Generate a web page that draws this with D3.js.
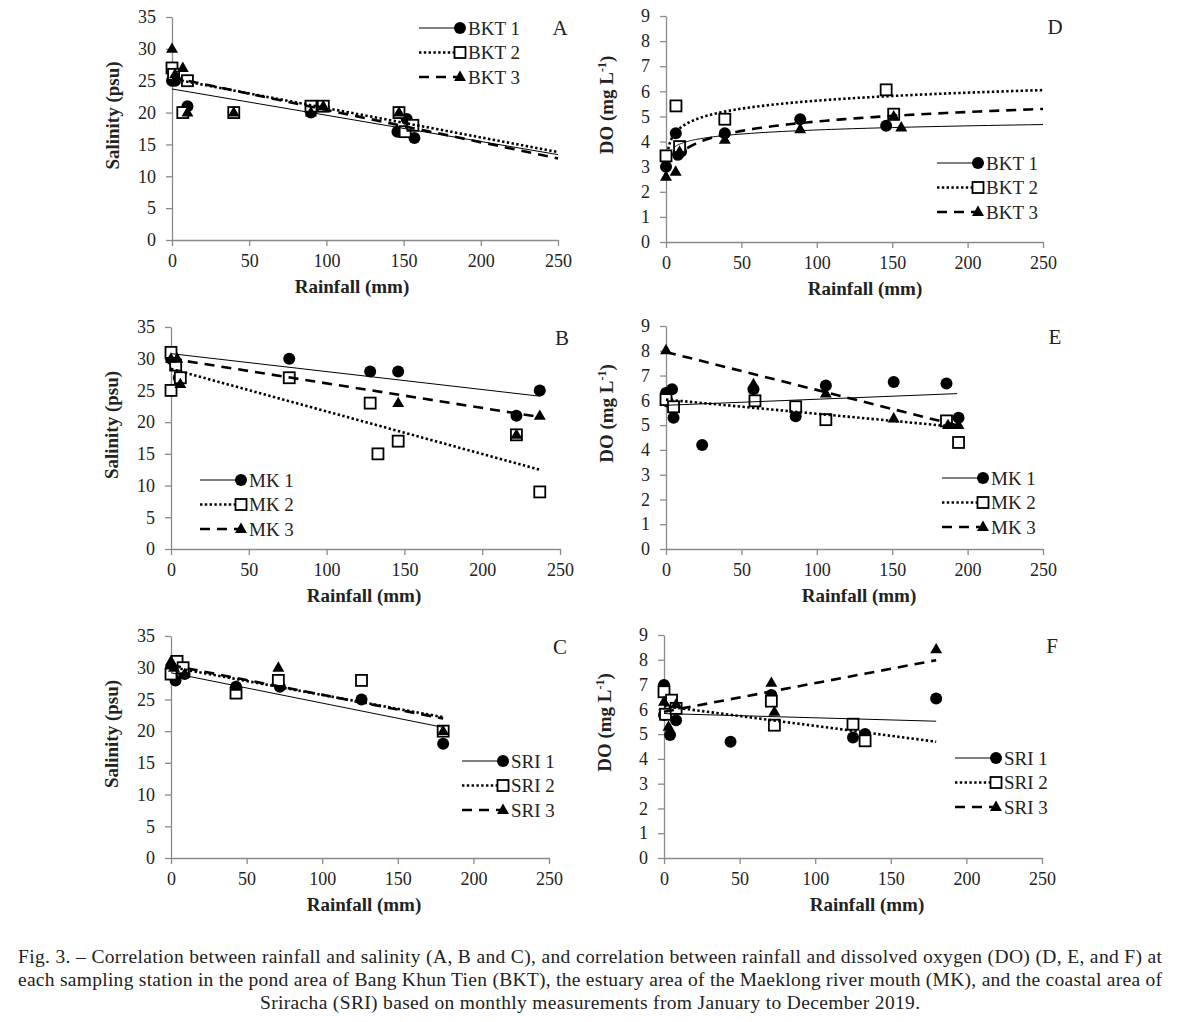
<!DOCTYPE html>
<html>
<head>
<meta charset="utf-8">
<script src="https://cdn.jsdelivr.net/npm/d3@7"></script>
<style>
body { margin: 0; background: #fff; }
text { font-family: "Liberation Serif", "Times New Roman", serif; }
</style>
</head>
<body>
<svg id="fig" width="1179" height="1022"></svg>
<script>
// ---- data (rainfall in mm) ----
// A: salinity at BKT
var aRain1 = [0, 2, 10, 40, 90, 98, 146, 152, 157];
var aSal1  = [25, 25, 21, 20, 20, 21, 17, 19, 16];
var aRain2 = [0, 1, 10, 7, 40, 90, 98, 147, 151, 156];
var aSal2  = [27, 26, 25, 20, 20, 21, 21, 20, 17, 18];
var aRain3 = [0, 2, 7, 10, 40, 90, 98, 147];
var aSal3  = [30, 26, 27, 20, 20, 20, 21, 20];
var aFit   = [[23.7, -0.0412], [25.3, -0.046], [25.5, -0.0508]]; // intercept, slope

// B: salinity at MK
var bRain1 = [0, 3, 5, 76, 128, 146, 222, 237];
var bSal1  = [30, 29, 27, 30, 28, 28, 21, 25];
var bRain2 = [0, 0, 3, 6, 76, 128, 133, 146, 222, 237];
var bSal2  = [31, 25, 29, 27, 27, 23, 15, 17, 18, 9];
var bRain3 = [0, 4, 6, 146, 222, 237];
var bSal3  = [30, 30, 26, 23, 18, 21];
var bFit   = [[30.8, -0.0283], [28.4, -0.0671], [30.0, -0.0388]];

// C: salinity at SRI
var cRain1 = [0, 3, 9, 43, 72, 126, 180];
var cSal1  = [30, 28, 29, 27, 27, 25, 18];
var cRain2 = [0, 4, 8, 43, 71, 126, 180];
var cSal2  = [29, 31, 30, 26, 28, 28, 20];
var cRain3 = [0, 2, 9, 43, 71, 180];
var cSal3  = [31, 30, 29, 27, 30, 20];
var cFit   = [[29.2, -0.0478], [30.1, -0.0439], [30.4, -0.0467]];

// D: DO at BKT (log trend: a*ln(x)+b)
var dRain1 = [0, 6.5, 8, 10, 39, 89, 146];
var dDo1   = [3.0, 4.33, 3.47, 3.6, 4.33, 4.89, 4.63];
var dRain2 = [0, 6.6, 9, 39, 146, 151];
var dDo2   = [3.43, 5.42, 3.8, 4.89, 6.06, 5.09];
var dRain3 = [0, 6.4, 9, 39, 89, 151, 156];
var dDo3   = [2.6, 2.8, 3.6, 4.07, 4.49, 5.0, 4.56];
var dFit   = [[0.235, 3.38], [0.46, 3.51], [0.545, 2.29]]; // a, b

// E: DO at MK
var eRain1 = [0, 1, 4, 5, 24, 58, 86, 106, 151, 186, 194];
var eDo1   = [6.3, 5.95, 6.45, 5.3, 4.2, 6.45, 5.36, 6.6, 6.74, 6.68, 5.3];
var eRain2 = [0, 5, 59, 86, 106, 186, 194];
var eDo2   = [6.03, 5.74, 5.98, 5.74, 5.22, 5.17, 4.3];
var eRain3 = [0, 58, 106, 151, 187, 194];
var eDo3   = [8.02, 6.65, 6.27, 5.27, 5.0, 5.0];
var eFit   = [[5.8, 0.00244], [6.03, -0.00571], [7.95, -0.01532]];

// F: DO at SRI
var fRain1 = [0, 0, 4, 8, 44, 71, 125, 133, 180];
var fDo1   = [6.98, 5.77, 4.96, 5.56, 4.69, 6.58, 4.86, 5.0, 6.44];
var fRain2 = [0, 1, 5, 8, 71, 73, 125, 133];
var fDo2   = [6.71, 5.8, 6.37, 6.04, 6.33, 5.36, 5.4, 4.73];
var fRain3 = [0, 3, 8, 71, 73, 180];
var fDo3   = [6.3, 5.3, 6.2, 7.07, 5.9, 8.42];
var fFit   = [[5.83, -0.00172], [6.13, -0.00798], [5.9, 0.01158]];

var xTicks = [0, 50, 100, 150, 200, 250];
var salTicks = [0, 5, 10, 15, 20, 25, 30, 35];
var doTicks = [0, 1, 2, 3, 4, 5, 6, 7, 8, 9];

var captionLines = [
  "Fig. 3. \u2013 Correlation between rainfall and salinity (A, B and C), and correlation between rainfall and dissolved oxygen (DO) (D, E, and F) at",
  "each sampling station in the pond area of Bang Khun Tien (BKT), the estuary area of the Maeklong river mouth (MK), and the coastal area of",
  "Sriracha (SRI) based on monthly measurements from January to December 2019."
];

function pairs(xs, ys) { return xs.map(function(d, i) { return [d, ys[i]]; }); }

var panels = [
  { label: "A", kind: "sal", names: ["BKT 1", "BKT 2", "BKT 3"],
    series: [pairs(aRain1, aSal1), pairs(aRain2, aSal2), pairs(aRain3, aSal3)],
    fit: aFit, fitType: "lin", fitFrom: 0, fitTo: 250,
    x0: 172, x1: 558, yt: 17, yb: 240, titleX: 352, labX: 560,
    legX: 419, legY: 28 },
  { label: "B", kind: "sal", names: ["MK 1", "MK 2", "MK 3"],
    series: [pairs(bRain1, bSal1), pairs(bRain2, bSal2), pairs(bRain3, bSal3)],
    fit: bFit, fitType: "lin", fitFrom: 0, fitTo: 237,
    x0: 171, x1: 560, yt: 327, yb: 549, titleX: 364, labX: 562,
    legX: 200, legY: 480 },
  { label: "C", kind: "sal", names: ["SRI 1", "SRI 2", "SRI 3"],
    series: [pairs(cRain1, cSal1), pairs(cRain2, cSal2), pairs(cRain3, cSal3)],
    fit: cFit, fitType: "lin", fitFrom: 0, fitTo: 180,
    x0: 171, x1: 549, yt: 636, yb: 858, titleX: 364, labX: 560,
    legX: 462, legY: 761 },
  { label: "D", kind: "do", names: ["BKT 1", "BKT 2", "BKT 3"],
    series: [pairs(dRain1, dDo1), pairs(dRain2, dDo2), pairs(dRain3, dDo3)],
    fit: dFit, fitType: "log", fitFrom: [5, 1.5, 6], fitTo: 250,
    x0: 666, x1: 1043, yt: 16, yb: 242, titleX: 865, labX: 1055,
    legX: 937, legY: 163 },
  { label: "E", kind: "do", names: ["MK 1", "MK 2", "MK 3"],
    series: [pairs(eRain1, eDo1), pairs(eRain2, eDo2), pairs(eRain3, eDo3)],
    fit: eFit, fitType: "lin", fitFrom: 0, fitTo: 193,
    x0: 666, x1: 1043, yt: 326, yb: 549, titleX: 859, labX: 1055,
    legX: 942, legY: 478 },
  { label: "F", kind: "do", names: ["SRI 1", "SRI 2", "SRI 3"],
    series: [pairs(fRain1, fDo1), pairs(fRain2, fDo2), pairs(fRain3, fDo3)],
    fit: fFit, fitType: "lin", fitFrom: 0, fitTo: 180,
    x0: 664, x1: 1042, yt: 635, yb: 858, titleX: 867, labX: 1052,
    legX: 955, legY: 758 }
];

var lineStyles = [
  { w: 1, dash: null },
  { w: 2.6, dash: "2.4,2.4" },
  { w: 2.6, dash: "10,7" }
];

var svg = d3.select("#fig");
svg.append("rect").attr("width", 1179).attr("height", 1022).attr("fill", "#fff");

function drawMarker(g, i, cx, cy) {
  if (i == 0) {
    g.append("circle").attr("cx", cx).attr("cy", cy).attr("r", 6).attr("fill", "#000");
  } else if (i == 1) {
    g.append("rect").attr("x", cx - 5.5).attr("y", cy - 5.5).attr("width", 11).attr("height", 11)
      .attr("fill", "#fff").attr("stroke", "#000").attr("stroke-width", 1.8);
  } else {
    g.append("path").attr("d", d3.symbol().type(d3.symbolTriangle).size(62)())
      .attr("transform", "translate(" + cx + "," + (cy + 0.5) + ")").attr("fill", "#000");
  }
}

panels.forEach(function(p) {
  var g = svg.append("g");
  var ymax = p.kind == "sal" ? 35 : 9;
  var x = d3.scaleLinear().domain([0, 250]).range([p.x0, p.x1]);
  var y = d3.scaleLinear().domain([0, ymax]).range([p.yb, p.yt]);

  // axes
  var xa = g.append("g").attr("transform", "translate(0," + p.yb + ")")
    .call(d3.axisBottom(x).tickValues(xTicks).tickSize(6).tickSizeOuter(0).tickPadding(8));
  var ya = g.append("g").attr("transform", "translate(" + p.x0 + ",0)")
    .call(d3.axisLeft(y).tickValues(p.kind == "sal" ? salTicks : doTicks).tickSize(6).tickSizeOuter(0).tickPadding(10));
  [xa, ya].forEach(function(a) {
    a.select(".domain").attr("stroke", "#8a8a8a").attr("stroke-width", 1.3);
    a.selectAll(".tick line").attr("stroke", "#8a8a8a").attr("stroke-width", 1.3);
    a.selectAll("text").attr("font-family", "Liberation Serif").attr("font-size", 18).attr("fill", "#222");
  });

  // points
  p.series.forEach(function(s, i) {
    var sg = g.append("g");
    s.forEach(function(d) { drawMarker(sg, i, x(d[0]), y(d[1])); });
  });

  // trend lines
  var line = d3.line().x(function(d) { return x(d[0]); }).y(function(d) { return y(d[1]); });
  p.fit.forEach(function(f, i) {
    var pts;
    if (p.fitType == "lin") {
      pts = [[p.fitFrom, f[0] + f[1] * p.fitFrom], [p.fitTo, f[0] + f[1] * p.fitTo]];
    } else {
      var from = p.fitFrom[i];
      pts = d3.range(0, 101).map(function(k) {
        var xv = from * Math.pow(p.fitTo / from, k / 100);
        return [xv, f[0] * Math.log(xv) + f[1]];
      });
    }
    g.append("path").attr("d", line(pts)).attr("fill", "none").attr("stroke", "#000")
      .attr("stroke-width", lineStyles[i].w).attr("stroke-dasharray", lineStyles[i].dash);
  });

  // axis titles
  var midY = (p.yt + p.yb) / 2;
  g.append("text").attr("x", p.titleX).attr("y", p.yb + 53).attr("text-anchor", "middle")
    .attr("font-size", 19).attr("font-weight", "bold").attr("fill", "#222").text("Rainfall (mm)");
  var yt = g.append("text")
    .attr("transform", "translate(" + (p.x0 - 53) + "," + (midY + (p.kind == "sal" ? -13 : -24)) + ") rotate(-90)")
    .attr("text-anchor", "middle").attr("font-size", 19).attr("font-weight", "bold").attr("fill", "#222");
  if (p.kind == "sal") {
    yt.text("Salinity (psu)");
  } else {
    yt.append("tspan").text("DO (mg L");
    yt.append("tspan").attr("font-size", 12).attr("dy", -7).text("-1");
    yt.append("tspan").attr("dy", 7).text(")");
  }

  // panel letter
  g.append("text").attr("x", p.labX).attr("y", p.yt + 18).attr("text-anchor", "middle")
    .attr("font-size", 21).attr("fill", "#222").text(p.label);

  // legend
  p.names.forEach(function(n, i) {
    var ly = p.legY + i * 24.5;
    g.append("line").attr("x1", p.legX).attr("x2", p.legX + 38).attr("y1", ly).attr("y2", ly)
      .attr("stroke", "#000").attr("stroke-width", lineStyles[i].w).attr("stroke-dasharray", lineStyles[i].dash);
    drawMarker(g, i, p.legX + 41, ly);
    g.append("text").attr("x", p.legX + 49).attr("y", ly + 6.5).attr("font-size", 19)
      .attr("fill", "#222").text(n);
  });
});

// caption
var capSize = 19.5;
svg.append("text").attr("x", 18).attr("y", 963).attr("font-size", capSize).attr("fill", "#222")
  .attr("textLength", 1144).attr("lengthAdjust", "spacing").text(captionLines[0]);
svg.append("text").attr("x", 18).attr("y", 986).attr("font-size", capSize).attr("fill", "#222")
  .attr("textLength", 1144).attr("lengthAdjust", "spacing").text(captionLines[1]);
svg.append("text").attr("x", 260).attr("y", 1009).attr("font-size", capSize).attr("fill", "#222")
  .attr("textLength", 660).attr("lengthAdjust", "spacing").text(captionLines[2]);
</script>
</body>
</html>
